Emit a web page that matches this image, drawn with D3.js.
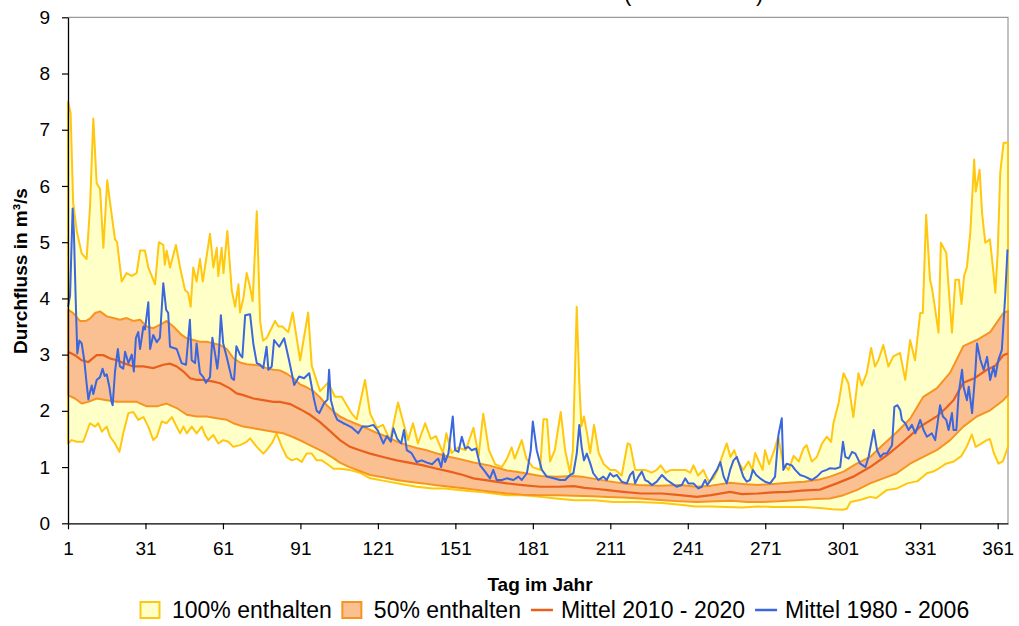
<!DOCTYPE html>
<html>
<head>
<meta charset="utf-8">
<script src="https://cdn.jsdelivr.net/npm/d3@7"></script>
<style>
  body { margin: 0; background: #fff; }
  text { font-family: "Liberation Sans", Arial, sans-serif; }
</style>
</head>
<body>
<svg id="chart" width="1019" height="626"></svg>
<script>
// Axis ticks
const dayTicks = [1, 31, 61, 91, 121, 151, 181, 211, 241, 271, 301, 331, 361];
const flowTicks = [0, 1, 2, 3, 4, 5, 6, 7, 8, 9];

// Legend entries
const legendLabels = ["100% enthalten", "50% enthalten", "Mittel 2010 - 2020", "Mittel 1980 - 2006"];

// Daily discharge statistics [Tag im Jahr, m³/s]
const max100 = [[1,7.5],[2,7.3],[3,5.7],[4.4,5.2],[6.3,4.8],[8.2,4.7],[9.5,5.6],[10.8,7.2],[12.1,6.05],[13.4,5.95],[14.7,4.9],[16.2,6.1],[17.3,5.7],[19.2,5.05],[20,5.0],[21.8,4.3],[23.7,4.45],[25.7,4.4],[27.6,4.45],[28.9,4.85],[30.8,4.85],[32.1,4.55],[34.7,4.25],[36.2,5.0],[37.9,4.95],[38.5,4.6],[39.2,4.85],[40.5,4.55],[42.8,4.95],[44.4,4.55],[46.3,4.15],[47.5,4.1],[48.5,3.85],[49.5,4.55],[50.8,4.3],[52.1,4.7],[53.2,4.3],[56,5.15],[57.3,4.55],[58.6,4.9],[59.2,4.4],[60.5,4.9],[61.2,4.45],[62.7,5.2],[64.4,4.15],[65.7,3.85],[67,4.25],[67.6,3.75],[68.9,4.0],[70.2,4.45],[71.5,4.2],[72.5,3.95],[74.1,5.55],[75.4,3.6],[76.5,3.25],[78,3.3],[81.2,3.6],[82.5,3.5],[84,3.5],[86.3,3.4],[88,3.75],[90.9,2.9],[94,3.75],[95.4,2.8],[98.6,2.35],[101.7,2.5],[104.4,2.25],[107,2.25],[110.9,1.95],[112.8,1.85],[116,2.55],[118,1.95],[120.6,1.7],[123,1.75],[125.7,1.48],[128.8,2.15],[130.8,1.8],[132.7,1.48],[134.6,1.78],[136.5,1.42],[139.3,1.78],[141.5,1.5],[143.5,1.55],[146.2,1.25],[147.5,1.6],[149.5,1.25],[152,1.35],[155,1.3],[158,1.7],[160,1.2],[161.8,1.95],[164,1.3],[166.4,1.05],[169,1.0],[171,1.15],[172.8,1.35],[174,1.15],[176.7,1.48],[178.5,1.15],[181,1.0],[183.8,0.95],[185.1,1.85],[186.5,1.85],[187.7,1.1],[189.5,1.3],[191.8,1.98],[193.5,1.3],[195.4,0.9],[196.5,1.3],[198,3.85],[199,2.5],[199.8,1.72],[200.8,1.9],[202,1.6],[203.2,1.25],[204.7,1.75],[206.5,1.25],[208.5,1.05],[211,0.95],[213,0.95],[215.4,0.85],[217.7,1.42],[218.7,1.4],[220.6,0.95],[224.5,0.95],[227,0.9],[229,0.95],[230.5,1.03],[232.5,0.9],[234.5,0.95],[237,0.95],[240,0.95],[242,0.9],[243.2,1.03],[245,0.85],[247,0.95],[249,0.75],[251,0.8],[252.5,0.95],[254.2,1.18],[256.1,1.42],[257.5,1.18],[259,1.3],[260.5,1.1],[262.5,0.95],[264.5,1.1],[266,0.95],[267.1,1.25],[268.5,1.1],[270,0.95],[270.9,1.3],[272.5,1.05],[274.5,1.3],[276,1.54],[278,1.05],[280,0.95],[282,1.2],[284,1.1],[285.8,1.33],[287,1.39],[289,1.1],[291,1.18],[293,1.42],[294.8,1.54],[296.5,1.45],[297.4,1.78],[299.4,2.14],[301.3,2.67],[303.2,2.49],[305.1,1.89],[307.1,2.67],[308.4,2.45],[310.3,2.67],[312,3.12],[313.5,2.79],[314.8,2.9],[316.7,3.17],[318.7,2.79],[320.6,2.97],[323.2,3.03],[325.2,2.55],[327.1,3.26],[329,2.9],[331,3.74],[332,3.74],[333.3,5.49],[334.8,4.33],[335.5,4.2],[336.5,3.9],[338.1,3.39],[339,4.99],[341.1,4.81],[342,4.2],[343.3,3.39],[344.6,4.33],[346,4.33],[347,3.9],[348,4.4],[349.1,4.56],[350.4,5.17],[351.9,6.47],[352.5,5.9],[354,6.29],[355,5.5],[356.2,4.99],[358,5.05],[359.5,4.4],[360.1,4.1],[361,4.8],[362,6.24],[363.3,6.77],[365,6.77]];

const min100 = [[1,1.42],[2.4,1.48],[4.4,1.45],[6.9,1.45],[9.5,1.78],[11.5,1.72],[12.7,1.78],[14.1,1.63],[16,1.72],[17.3,1.54],[19.2,1.42],[20.9,1.27],[22.4,1.6],[24.4,1.96],[26.3,1.98],[28.2,1.84],[30.2,1.89],[32.1,1.72],[34,1.48],[35.4,1.54],[37.3,1.81],[39.2,1.78],[41.2,1.89],[42.4,1.78],[44.4,1.6],[45.7,1.72],[47,1.6],[48.9,1.72],[50.8,1.6],[52.8,1.72],[54.1,1.57],[55.3,1.48],[57.3,1.57],[59.2,1.42],[61.1,1.48],[63.1,1.45],[65,1.36],[67.6,1.39],[70.2,1.45],[71.5,1.51],[74.1,1.36],[76.6,1.24],[77.9,1.3],[79.9,1.42],[81.8,1.6],[83.8,1.36],[85.7,1.18],[87.6,1.12],[89.6,1.15],[91.5,1.09],[93.4,1.24],[95.4,1.24],[97.3,1.12],[99.3,1.12],[101.2,1.06],[103.8,0.97],[106.3,0.97],[110,0.95],[114,0.9],[118,0.8],[124,0.75],[130,0.7],[136,0.65],[142,0.62],[147,0.62],[155,0.58],[162,0.55],[171,0.5],[177,0.5],[184,0.47],[190,0.44],[197,0.41],[205,0.41],[212,0.38],[222,0.38],[231,0.36],[238,0.33],[244,0.3],[250,0.3],[256,0.29],[262,0.28],[268,0.3],[274,0.29],[280,0.29],[286,0.29],[292,0.27],[297,0.25],[301,0.24],[302.6,0.26],[304,0.38],[308,0.42],[311.6,0.47],[314,0.45],[318,0.59],[322,0.62],[326,0.71],[330,0.75],[333.6,0.89],[336,0.92],[338,0.97],[341,1.06],[344,1.1],[347,1.2],[349,1.36],[351,1.58],[352.5,1.36],[354,1.4],[356.8,1.48],[358,1.5],[359.5,1.25],[361.3,1.06],[363,1.1],[365,1.36]];

const q75 = [[1,3.8],[3,3.74],[5.6,3.6],[8,3.6],[9.5,3.64],[11.5,3.74],[13.4,3.77],[16,3.68],[18.6,3.65],[21.1,3.62],[23.7,3.65],[26.3,3.6],[28.9,3.62],[31.5,3.5],[34,3.47],[36.6,3.53],[39.2,3.6],[41.8,3.5],[45,3.35],[47,3.29],[49.5,3.26],[52.1,3.23],[54.7,3.23],[57.3,3.2],[59.9,3.17],[62.5,3.1],[65,2.94],[67.6,2.86],[70.2,2.83],[72.8,2.82],[75.4,2.8],[77.9,2.76],[80.5,2.73],[83.1,2.72],[85.7,2.66],[88.3,2.58],[90.9,2.47],[93.4,2.42],[96,2.35],[98.6,2.24],[101.2,2.1],[103.8,1.99],[106.3,1.9],[109,1.84],[112,1.78],[116.7,1.69],[120,1.62],[124.4,1.54],[128,1.46],[132.2,1.39],[136,1.34],[139.9,1.3],[144,1.24],[148.9,1.18],[152,1.15],[158,1.08],[164,1.03],[171,0.94],[177,0.9],[184,0.84],[190,0.83],[196.7,0.84],[200,0.83],[205,0.79],[210,0.75],[216,0.71],[222,0.68],[230,0.67],[238,0.68],[244.5,0.65],[250,0.67],[257.4,0.72],[262,0.7],[268,0.68],[274,0.7],[280,0.72],[286,0.74],[292,0.78],[296.1,0.83],[301.3,0.92],[306.4,1.06],[311.6,1.18],[316.7,1.4],[321.9,1.62],[327.1,1.86],[332.2,2.25],[337.4,2.4],[342.6,2.68],[347.7,3.15],[352.9,3.26],[358.1,3.4],[363.2,3.74],[365,3.78]];

const q25 = [[1,2.28],[3.7,2.22],[6.3,2.13],[8.9,2.16],[12.1,2.22],[16,2.19],[19.9,2.16],[23.7,2.16],[27.6,2.16],[31.5,2.08],[35.4,2.08],[39.2,2.13],[43.1,2.05],[47,1.93],[50.8,1.9],[54.7,1.9],[58.6,1.87],[62.5,1.84],[65,1.78],[68.9,1.72],[72.8,1.69],[76.6,1.66],[80.5,1.63],[84.4,1.6],[88.3,1.53],[92.1,1.45],[96,1.36],[99.9,1.27],[103.8,1.16],[106.3,1.08],[110,1.0],[114,0.93],[118,0.86],[123,0.82],[128.3,0.77],[133,0.74],[138.6,0.71],[143,0.68],[148.9,0.65],[155,0.62],[160,0.59],[165,0.56],[171,0.53],[177,0.51],[184,0.5],[191,0.5],[197,0.49],[204,0.48],[210,0.47],[216,0.46],[222.5,0.44],[231.5,0.41],[238,0.39],[244.5,0.38],[252,0.39],[258,0.4],[264,0.38],[270,0.38],[276,0.39],[283,0.41],[290,0.43],[296,0.44],[301.3,0.5],[306.4,0.59],[311.6,0.71],[316.7,0.8],[321.9,0.89],[327.1,1.06],[332.2,1.18],[337.4,1.3],[342.6,1.48],[347.7,1.72],[352.9,1.9],[358.1,2.01],[363.2,2.19],[365,2.28]];

const mean2010 = [[1,3.05],[3.7,2.99],[6.3,2.9],[8.9,2.87],[12.1,2.99],[14.7,2.99],[17.3,2.93],[19.9,2.9],[23.1,2.84],[26.3,2.79],[30.2,2.79],[34,2.76],[37.9,2.82],[40.5,2.84],[43.1,2.79],[45.7,2.7],[48.3,2.58],[50.8,2.55],[53.4,2.55],[57.3,2.52],[59.9,2.49],[63.7,2.4],[66.3,2.31],[68.9,2.28],[72.8,2.22],[76.6,2.19],[80.5,2.16],[83.1,2.16],[87,2.12],[90.9,2.03],[94.7,1.93],[98.6,1.8],[102.5,1.64],[106.3,1.48],[110.2,1.36],[114,1.3],[118,1.24],[123,1.18],[128.3,1.12],[133,1.08],[138.6,1.03],[143,0.98],[148.9,0.92],[154,0.86],[158,0.8],[164,0.76],[171,0.71],[177,0.68],[184,0.65],[191,0.65],[197,0.66],[201,0.63],[206,0.61],[210,0.59],[216,0.56],[223,0.53],[231,0.53],[238,0.5],[244.5,0.47],[250,0.5],[257.4,0.56],[262,0.52],[268,0.53],[274,0.55],[280,0.56],[285,0.58],[292.2,0.6],[298.7,0.71],[305.1,0.83],[311.6,1.0],[318.1,1.21],[324.5,1.45],[331,1.72],[337.4,1.9],[341,2.05],[343.9,2.19],[347.7,2.5],[352,2.58],[356.8,2.73],[360,2.8],[363.2,2.99],[365,3.02]];

const mean1980 = [[1,3.85],[1.8,4.05],[2.8,5.6],[3.3,5.15],[4,3.95],[4.6,3.02],[5.4,3.25],[6.3,3.2],[7.3,2.9],[8.2,2.49],[8.9,2.2],[9.6,2.35],[10.2,2.45],[10.8,2.3],[12.1,2.55],[13.4,2.6],[14.4,2.75],[15.2,2.62],[16,2.65],[17,2.43],[17.9,2.15],[18.3,2.1],[19.2,2.7],[20.3,3.1],[21.1,2.79],[22.4,2.75],[23.1,3.05],[24.4,2.85],[25.7,3.0],[26.5,2.7],[27.3,3.3],[28.2,3.4],[28.9,3.1],[30.2,3.5],[30.8,3.45],[32.1,3.93],[32.8,3.1],[34,3.35],[35.4,3.22],[36.6,3.3],[37.9,4.27],[39,3.8],[39.8,3.74],[40.5,3.14],[43.1,3.1],[45,2.85],[46.7,2.82],[48.2,3.62],[48.9,2.9],[50.2,2.85],[50.8,3.2],[52.1,2.67],[53.4,2.6],[54.4,2.5],[56,2.6],[56.9,3.3],[58,3.0],[58.8,2.75],[59.4,3.0],[60.2,3.7],[61.1,3.2],[62.5,2.95],[64.4,2.58],[65.3,2.55],[66.2,3.15],[67.6,3.0],[68.5,2.95],[69.6,3.7],[71.5,3.72],[72.8,3.18],[74.1,2.85],[75.4,2.82],[76.6,2.76],[77.9,3.14],[78.6,2.73],[79.9,2.79],[80.8,3.26],[82.8,3.14],[84.7,3.29],[86.6,2.9],[88.6,2.46],[90.5,2.61],[92.4,2.58],[94.4,2.67],[96.3,2.2],[97.3,2.0],[98.3,1.96],[100.2,2.14],[101.5,2.2],[102.1,2.73],[102.8,2.19],[104.1,1.96],[105.3,1.84],[107.6,1.78],[109,1.75],[111,1.7],[113.4,1.6],[115,1.72],[117,1.72],[119.2,1.75],[121,1.65],[123.1,1.42],[124.5,1.55],[126,1.45],[127,1.69],[128.5,1.5],[130,1.42],[131.1,1.66],[132.2,1.3],[134,1.25],[136,1.09],[138,1.12],[140,1.08],[142,1.05],[143.5,1.12],[144.4,1.15],[145.5,1.0],[146.4,1.24],[147,1.09],[148.3,1.24],[150,1.9],[150.9,1.3],[152.2,1.27],[153.5,1.54],[154.8,1.33],[156,1.36],[157.3,1.3],[159,1.33],[160.6,1.03],[162.5,0.92],[164.4,0.8],[165.7,0.95],[167,0.77],[169,0.77],[170.9,0.8],[173.5,0.77],[175.4,0.83],[176.7,0.77],[178.7,0.89],[180.2,1.3],[181,1.81],[182.5,1.3],[184.5,0.95],[186.4,0.83],[189,0.8],[191.5,0.77],[193.5,0.77],[195.4,0.86],[196.7,0.89],[198,1.24],[199,1.75],[199.9,1.36],[200.8,1.12],[201.9,1.24],[203.2,1.07],[204.4,0.89],[206.4,0.77],[208.3,0.83],[209.6,0.77],[210.9,0.89],[212.2,0.83],[213.5,0.86],[215.4,0.74],[217.4,0.71],[218.7,0.86],[219.8,0.92],[220.6,0.71],[221.9,0.83],[223.2,0.92],[224.5,0.77],[225.7,0.74],[227.1,0.68],[229,0.74],[231,0.86],[232.9,0.77],[234.8,0.71],[236.7,0.65],[238.7,0.68],[240,0.8],[241.2,0.71],[243.2,0.71],[245.1,0.62],[246.4,0.65],[247.7,0.77],[248.6,0.68],[249.9,0.77],[251,0.86],[252.3,0.95],[253.6,1.09],[254.9,0.83],[256.1,0.71],[257.4,0.95],[258.7,1.12],[260,1.18],[261.3,1.0],[262.5,0.83],[263.8,0.74],[265.1,0.77],[266.2,0.95],[267.5,0.86],[269,0.8],[270.9,0.74],[272.9,0.71],[274.8,0.83],[276.1,1.57],[277.4,1.87],[278,0.95],[279.3,1.06],[281.3,1.03],[282.6,0.95],[284.5,0.86],[286.4,0.83],[289,0.77],[291,0.83],[292.9,0.92],[294.8,0.95],[296.1,0.98],[298.1,0.97],[300,1.0],[301.1,1.45],[302,1.18],[303.3,1.15],[304.6,1.27],[305.9,1.24],[307.8,1.06],[309.8,1.0],[311,1.18],[313,1.66],[314.3,1.3],[315.6,1.18],[316.8,1.24],[318.1,1.24],[320.1,1.39],[321,2.07],[322.2,2.1],[323.3,2.01],[323.9,1.84],[325.2,1.78],[326.5,1.66],[327.8,1.75],[329.1,1.6],[331,1.84],[332.3,1.66],[333.6,1.54],[335.5,1.6],[336.8,1.48],[338.7,2.1],[339.8,1.9],[341.1,1.84],[342,1.66],[343.3,1.96],[343.9,1.66],[345,1.66],[345.9,2.31],[347.2,2.73],[347.8,2.43],[349.1,2.19],[349.8,2.43],[351.1,1.96],[352.4,2.73],[353,3.2],[354.3,2.91],[355.6,2.73],[356.9,2.96],[358.1,2.55],[359.4,2.79],[360.1,2.61],[361.3,2.91],[362.6,3.08],[363.9,4.03],[364.8,4.87]];

// Colours
const C = {
  yellowFill: "#ffffc8", yellowLine: "#ffc70f",
  orangeFill: "#fbc092", orangeLine: "#f7941f",
  mean2010: "#e8601c", mean1980: "#3a66de",
  frame: "#9a9a9a"
};

const svg = d3.select("#chart");
svg.append("rect").attr("width", 1019).attr("height", 626).attr("fill", "#fff");

const plot = { left: 68, right: 1008, top: 17.3, bottom: 523.3 };
const x = d3.scaleLinear().domain([1, 365]).range([plot.left, plot.right]);
const y = d3.scaleLinear().domain([0, 9]).range([plot.bottom, plot.top]);

const line = d3.line().x(d => x(d[0])).y(d => y(d[1]));
const closed = d3.line().x(d => x(d[0])).y(d => y(d[1])).curve(d3.curveLinearClosed);

// Frame: light top and right border
svg.append("path")
  .attr("d", `M${plot.left},${plot.top}H${plot.right}V${plot.bottom}`)
  .attr("fill", "none").attr("stroke", C.frame).attr("stroke-width", 1.2);

// Range band containing all years
const band100 = max100.concat(min100.slice().reverse());
svg.append("path").attr("d", closed(band100))
  .attr("fill", C.yellowFill).attr("stroke", C.yellowLine)
  .attr("stroke-width", 2).attr("stroke-linejoin", "round");

// Inter-quartile band
const band50 = q75.concat(q25.slice().reverse());
svg.append("path").attr("d", closed(band50))
  .attr("fill", C.orangeFill).attr("stroke", C.orangeLine)
  .attr("stroke-width", 2).attr("stroke-linejoin", "round");

// Mean lines
svg.append("path").attr("d", line(mean2010))
  .attr("fill", "none").attr("stroke", C.mean2010).attr("stroke-width", 2.2);
svg.append("path").attr("d", line(mean1980))
  .attr("fill", "none").attr("stroke", C.mean1980).attr("stroke-width", 2)
  .attr("stroke-linejoin", "round");

// Axes
const fontTick = 19;
const yAxis = svg.append("g").attr("transform", `translate(${plot.left},0)`)
  .call(d3.axisLeft(y).tickValues(flowTicks).tickSize(6).tickSizeOuter(0).tickPadding(12).tickFormat(d3.format("d")));
const xAxis = svg.append("g").attr("transform", `translate(0,${plot.bottom})`)
  .call(d3.axisBottom(x).tickValues(dayTicks).tickSize(6).tickSizeOuter(0).tickPadding(12).tickFormat(d3.format("d")));
[yAxis, xAxis].forEach(g => {
  g.select(".domain").attr("stroke", "#000").attr("stroke-width", 1.3);
  g.selectAll(".tick line").attr("stroke", "#000").attr("stroke-width", 1.2);
  g.selectAll(".tick text").attr("font-size", fontTick).attr("fill", "#000")
    .attr("font-family", '"Liberation Sans", Arial, sans-serif');
});

// Axis titles
svg.append("text").attr("x", 540).attr("y", 591)
  .attr("text-anchor", "middle").attr("font-size", 19).attr("font-weight", "bold")
  .text("Tag im Jahr");
svg.append("text").attr("transform", "translate(27,271) rotate(-90)")
  .attr("text-anchor", "middle").attr("font-size", 19).attr("font-weight", "bold")
  .text("Durchfluss in m³/s");

// Title line above the frame (only its lower edge falls inside the page)
svg.append("text").attr("x", 624).attr("y", 0.5).attr("font-size", 22).text("(");
svg.append("text").attr("x", 756).attr("y", 0.5).attr("font-size", 22).text(")");

// Legend
const legend = svg.append("g");
const legendFont = 23;
const legendY = 618;
let cursor = 140;
legendLabels.forEach((label, i) => {
  const g = legend.append("g");
  if (i < 2) {
    g.append("rect").attr("x", cursor + 0.5).attr("y", legendY - 16).attr("width", 19).attr("height", 16)
      .attr("fill", i === 0 ? C.yellowFill : C.orangeFill)
      .attr("stroke", i === 0 ? C.yellowLine : C.orangeLine).attr("stroke-width", 2);
  } else {
    g.append("line").attr("x1", cursor).attr("x2", cursor + 22)
      .attr("y1", legendY - 8).attr("y2", legendY - 8)
      .attr("stroke", i === 2 ? C.mean2010 : C.mean1980).attr("stroke-width", 2.5);
  }
  const tx = cursor + (i < 2 ? 32 : 30);
  const t = g.append("text").attr("x", tx).attr("y", legendY)
    .attr("font-size", legendFont).attr("fill", "#000").text(label);
  cursor = tx + t.node().getComputedTextLength() + 10;
});
</script>
</body>
</html>
